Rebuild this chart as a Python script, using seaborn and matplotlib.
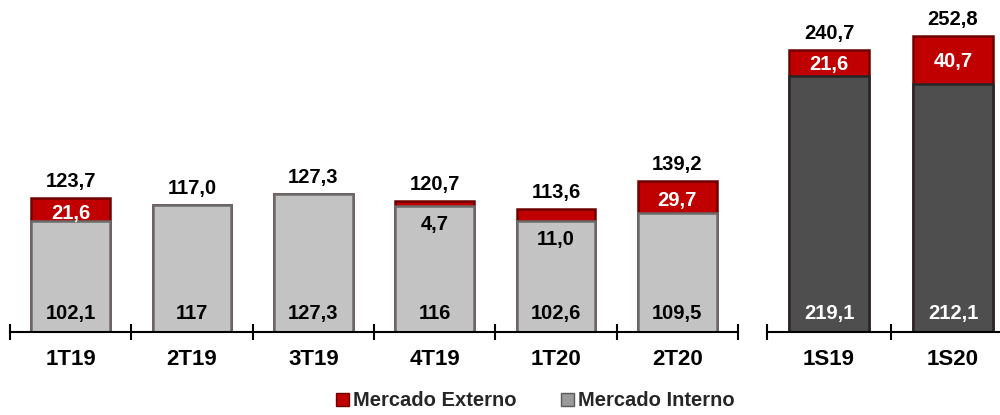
import matplotlib
matplotlib.use("Agg")
import matplotlib.pyplot as plt
import seaborn as sns
import pandas as pd
from matplotlib.patches import Patch

# ---- data ----
quarters = ["1T19", "2T19", "3T19", "4T19", "1T20", "2T20"]
q_interno = [102.1, 117.0, 127.3, 116.0, 102.6, 109.5]
q_externo = [21.6, 0.0, 0.0, 4.7, 11.0, 29.7]
q_interno_lbl = ["102,1", "117", "127,3", "116", "102,6", "109,5"]
q_externo_lbl = ["21,6", "", "", "4,7", "11,0", "29,7"]
q_total_lbl = ["123,7", "117,0", "127,3", "120,7", "113,6", "139,2"]

semesters = ["1S19", "1S20"]
s_interno = [219.1, 212.1]
s_externo = [21.6, 40.7]
s_interno_lbl = ["219,1", "212,1"]
s_externo_lbl = ["21,6", "40,7"]
s_total_lbl = ["240,7", "252,8"]

RED = "#c00000"
RED_EDGE = "#6e0000"
LIGHT = "#c3c3c3"
LIGHT_EDGE = "#6a6a6a"
DARK = "#4e4e4e"
DARK_EDGE = "#262626"

sns.set_theme(style="white")
plt.rcParams["font.family"] = ["Liberation Sans", "DejaVu Sans"]
plt.rcParams["font.weight"] = "bold"

fig = plt.figure(figsize=(10, 4.15), dpi=100)
ax1 = fig.add_axes([0.010, 0.2, 0.728, 0.8])
ax2 = fig.add_axes([0.767, 0.2, 0.248, 0.8])

FS = 14.5


def draw(ax, cats, interno, externo, i_lbl, e_lbl, t_lbl, face, edge, i_col, ymax,
         inside_small, red_shift):
    totals = [a + b for a, b in zip(interno, externo)]
    df = pd.DataFrame({"cat": cats, "interno": interno, "total": totals})
    sns.barplot(data=df, x="cat", y="total", order=cats, color=RED, saturation=1,
                width=0.65, edgecolor=RED_EDGE, linewidth=1.8, errorbar=None, ax=ax)
    sns.barplot(data=df, x="cat", y="interno", order=cats, color=face, saturation=1,
                width=0.65, edgecolor=edge, linewidth=1.8, errorbar=None, ax=ax)
    for i, (iv, ev, tv) in enumerate(zip(interno, externo, totals)):
        ax.annotate(t_lbl[i], xy=(i, tv), xytext=(0, 12), textcoords="offset points",
                    ha="center", va="center", fontsize=FS, fontweight="bold", color="black")
        ax.annotate(i_lbl[i], xy=(i, 0), xytext=(0, 13.5), textcoords="offset points",
                    ha="center", va="center", fontsize=FS, fontweight="bold", color=i_col)
        if e_lbl[i]:
            if ev < inside_small:
                ax.annotate(e_lbl[i], xy=(i, iv), xytext=(0, -13.5), textcoords="offset points",
                            ha="center", va="center", fontsize=FS, fontweight="bold",
                            color="black")
            else:
                ax.text(i, iv + ev / 2 - red_shift, e_lbl[i], ha="center", va="center",
                        fontsize=FS, fontweight="bold", color="white")
    n = len(cats)
    ax.set_xlim(-0.5, n - 0.5)
    ax.set_ylim(0, ymax)
    ax.set_xlabel("")
    ax.set_ylabel("")
    ax.set_yticks([])
    for s in ["top", "right", "left"]:
        ax.spines[s].set_visible(False)
    ax.spines["bottom"].set_color("black")
    ax.spines["bottom"].set_linewidth(1.5)
    ax.set_xticks(range(n))
    ax.set_xticklabels(cats, fontsize=16, fontweight="bold")
    ax.tick_params(axis="x", which="major", length=0, pad=12, colors="black")
    ax.set_xticks([k - 0.5 for k in range(n + 1)], minor=True)
    ax.tick_params(axis="x", which="minor", direction="inout", length=11, width=1.5,
                   color="black", bottom=True)
    ax.patch.set_alpha(0)


draw(ax1, quarters, q_interno, q_externo, q_interno_lbl, q_externo_lbl, q_total_lbl,
     LIGHT, LIGHT_EDGE, "black", 332 / 1.085, 15, 3.5)
draw(ax2, semesters, s_interno, s_externo, s_interno_lbl, s_externo_lbl, s_total_lbl,
     DARK, DARK_EDGE, "white", 332 / 1.17, 15, 1.0)

handles = [Patch(facecolor=RED, edgecolor=RED_EDGE, label="Mercado Externo"),
           Patch(facecolor="#9a9a9a", edgecolor="#5a5a5a", label="Mercado Interno")]
fig.legend(handles=handles, loc="center", bbox_to_anchor=(0.535, 0.034), ncol=2,
           frameon=False, handlelength=0.65, handleheight=0.65, handletextpad=0.2,
           columnspacing=2.2, prop={"size": 14.5, "weight": "bold"})

fig.savefig("out.png", dpi=100)
